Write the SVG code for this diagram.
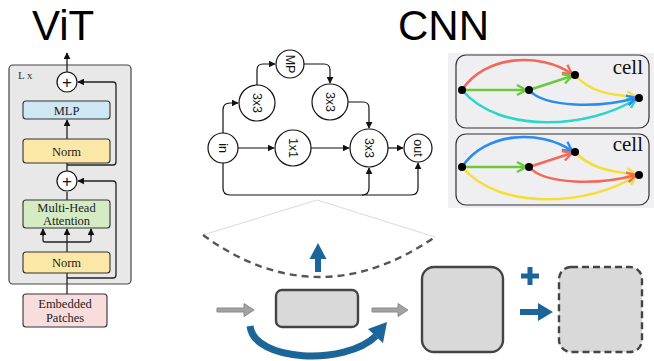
<svg xmlns="http://www.w3.org/2000/svg" width="654" height="361" viewBox="0 0 654 361">
<defs>
<style>
.title{font-family:"Liberation Sans",Arial,sans-serif;font-size:42px;fill:#000}
.vt{font-family:"Liberation Serif","Times New Roman",serif;font-size:12.5px;fill:#222;text-anchor:middle}
.blk{fill:none;stroke:#222;stroke-width:1.3}
.cn{fill:#fff;stroke:#111;stroke-width:1.2}
.cl{font-family:"Liberation Sans",Arial,sans-serif;font-size:12.5px;fill:#111;text-anchor:middle;dominant-baseline:central}
.ce{fill:none;stroke:#111;stroke-width:1.2}
.ed{fill:none;stroke-width:2.6;stroke-linecap:round}
.cell{fill:#efeff2;stroke:#333;stroke-width:1.2}
.celltxt{font-family:"Liberation Serif","Times New Roman",serif;font-size:21px;fill:#111;text-anchor:end}
.blue{fill:#1c6598}
.gray{fill:#d9d9d9;stroke:#444;stroke-width:2.4}
.garr{fill:#a3a3a3;stroke:#8a8a8a;stroke-width:1}
</style>
<marker id="ah" viewBox="0 0 10 10" refX="9" refY="5" markerWidth="7" markerHeight="7" markerUnits="userSpaceOnUse" orient="auto"><path d="M0,0 L10,5 L0,10 z" fill="#111"/></marker>
<marker id="mr" viewBox="0 0 12 12" refX="10" refY="6" markerWidth="12" markerHeight="12" markerUnits="userSpaceOnUse" orient="auto"><path d="M1,1 L10,6 L1,11" fill="none" stroke="#f2695a" stroke-width="2.4"/></marker>
<marker id="mg" viewBox="0 0 12 12" refX="10" refY="6" markerWidth="12" markerHeight="12" markerUnits="userSpaceOnUse" orient="auto"><path d="M1,1 L10,6 L1,11" fill="none" stroke="#6cc93a" stroke-width="2.4"/></marker>
<marker id="my" viewBox="0 0 12 12" refX="10" refY="6" markerWidth="12" markerHeight="12" markerUnits="userSpaceOnUse" orient="auto"><path d="M1,1 L10,6 L1,11" fill="none" stroke="#f4de3a" stroke-width="2.4"/></marker>
<marker id="mb" viewBox="0 0 12 12" refX="10" refY="6" markerWidth="12" markerHeight="12" markerUnits="userSpaceOnUse" orient="auto"><path d="M1,1 L10,6 L1,11" fill="none" stroke="#2a8cf0" stroke-width="2.4"/></marker>
<marker id="mc" viewBox="0 0 12 12" refX="10" refY="6" markerWidth="12" markerHeight="12" markerUnits="userSpaceOnUse" orient="auto"><path d="M1,1 L10,6 L1,11" fill="none" stroke="#2ad6c6" stroke-width="2.4"/></marker>
</defs>
<rect width="654" height="361" fill="#fff"/>

<text class="title" x="32" y="40">ViT</text>
<text class="title" x="398" y="40">CNN</text>

<!-- ViT -->
<g id="vit-block">
<rect x="9" y="65" width="122" height="219" rx="4" fill="#e8e8e8" stroke="#444" stroke-width="1.2"/>
<text x="18" y="79" font-family="Liberation Serif, serif" font-size="11" fill="#333">L x</text>
</g>
<g id="vit-connectors">
<path class="blk" d="M67,72 V53" marker-end="url(#ah)"/>
<path class="blk" d="M67,139 V120" marker-end="url(#ah)"/>
<path class="blk" d="M67,163 V171"/>
<path class="blk" d="M67,192 V200"/>
<path class="blk" d="M67,165 H113 Q116,165 116,162 V85 Q116,82 113,82 H78" marker-end="url(#ah)"/>
<path class="blk" d="M67,278 H113 Q116,278 116,275 V184 Q116,181 113,181 H78" marker-end="url(#ah)"/>
<path class="blk" d="M67,252 V229" marker-end="url(#ah)"/>
<path class="blk" d="M43,229 V240 Q43,242 45,242 H89 Q91,242 91,240 V229" />
<path class="blk" d="M43,236 V229" marker-end="url(#ah)"/>
<path class="blk" d="M91,236 V229" marker-end="url(#ah)"/>
<path class="blk" d="M67,273 V294"/>
</g>
<g id="vit-plus1"><circle cx="67" cy="82" r="10" fill="#fff" stroke="#111" stroke-width="1.2"/><text x="67" y="88" font-family="Liberation Sans, sans-serif" font-size="17" text-anchor="middle" fill="#111">+</text></g>
<g id="vit-mlp"><rect x="23" y="101" width="87" height="18" rx="3" fill="#cfe6f5" stroke="#333" stroke-width="1.1"/><text class="vt" x="66.5" y="114.5">MLP</text></g>
<g id="vit-norm1"><rect x="23" y="139" width="87" height="24" rx="3" fill="#fbe8a6" stroke="#333" stroke-width="1.1"/><text class="vt" x="66.5" y="155.5">Norm</text></g>
<g id="vit-plus2"><circle cx="67" cy="181" r="10" fill="#fff" stroke="#111" stroke-width="1.2"/><text x="67" y="187" font-family="Liberation Sans, sans-serif" font-size="17" text-anchor="middle" fill="#111">+</text></g>
<g id="vit-mha"><rect x="23" y="200" width="87" height="28" rx="3" fill="#d5ebc4" stroke="#333" stroke-width="1.1"/><text class="vt" x="66.5" y="212">Multi-Head</text><text class="vt" x="66.5" y="225">Attention</text></g>
<g id="vit-norm2"><rect x="23" y="252" width="87" height="21" rx="3" fill="#fbe8a6" stroke="#333" stroke-width="1.1"/><text class="vt" x="66.5" y="267">Norm</text></g>
<g id="vit-embed"><rect x="23" y="294" width="84" height="33" rx="3" fill="#f9dcdc" stroke="#333" stroke-width="1.1"/><text class="vt" x="65" y="308">Embedded</text><text class="vt" x="65" y="322">Patches</text></g>

<!-- CNN graph -->
<g id="cnn-connectors">
<path class="ce" d="M238,148 H274" marker-end="url(#ah)"/>
<path class="ce" d="M311,148 H349" marker-end="url(#ah)"/>
<path class="ce" d="M388,148 H403" marker-end="url(#ah)"/>
<path class="ce" d="M223,133 V110 Q223,103 230,103 H238" marker-end="url(#ah)"/>
<path class="ce" d="M257,85 V70 Q257,64 263,64 H275" marker-end="url(#ah)"/>
<path class="ce" d="M304,64 H324 Q330,64 330,70 V83" marker-end="url(#ah)"/>
<path class="ce" d="M348,102 H363 Q369,102 369,108 V128" marker-end="url(#ah)"/>
<path class="ce" d="M223,163 V188 Q223,195 230,195 H411 Q418,195 418,188 V163" marker-end="url(#ah)"/>
<path class="ce" d="M362,195 Q369,195 369,188 V168" marker-end="url(#ah)"/>
</g>
<g id="cnn-mp"><circle class="cn" cx="290" cy="64" r="14"/><text class="cl" transform="translate(290,64) rotate(90)">MP</text></g>
<g id="cnn-3x3a"><circle class="cn" cx="257" cy="103" r="18"/><text class="cl" transform="translate(257,103) rotate(90)">3x3</text></g>
<g id="cnn-3x3b"><circle class="cn" cx="330" cy="102" r="18"/><text class="cl" transform="translate(330,102) rotate(90)">3x3</text></g>
<g id="cnn-in"><circle class="cn" cx="223" cy="148" r="15"/><text class="cl" transform="translate(223,148) rotate(90)">in</text></g>
<g id="cnn-1x1"><circle class="cn" cx="293" cy="148" r="18"/><text class="cl" transform="translate(293,148) rotate(90)">1x1</text></g>
<g id="cnn-3x3c"><circle class="cn" cx="369" cy="148" r="19"/><text class="cl" transform="translate(369,148) rotate(90)">3x3</text></g>
<g id="cnn-out"><circle class="cn" cx="418" cy="148" r="14"/><text class="cl" transform="translate(418,148) rotate(90)">out</text></g>

<!-- cells -->
<g id="cells">
<rect x="448" y="53" width="206" height="155" fill="#f0f0f3"/>
<rect class="cell" x="456" y="55" width="193" height="73" rx="10"/>
<rect class="cell" x="456" y="134" width="193" height="71" rx="10"/>
<text class="celltxt" x="643" y="74">cell</text>
<text class="celltxt" x="643" y="151">cell</text>
<path class="ed" stroke="#f2695a" d="M462,90 C485,55 540,52 572,74" marker-end="url(#mr)"/>
<path class="ed" stroke="#2ad6c6" d="M462,90 C500,135 590,128 636,99" marker-end="url(#mc)"/>
<path class="ed" stroke="#f4de3a" d="M575,75 C590,92 610,95 636,97" marker-end="url(#my)"/>
<path class="ed" stroke="#2a8cf0" d="M529,90 C545,108 600,108 636,98" marker-end="url(#mb)"/>
<path class="ed" stroke="#6cc93a" d="M462,90 L526,90" marker-end="url(#mg)"/>
<path class="ed" stroke="#6cc93a" d="M529,90 L572,76" marker-end="url(#mg)"/>
<circle cx="462" cy="90" r="4" fill="#000"/><circle cx="529" cy="90" r="4" fill="#000"/><circle cx="575" cy="75" r="4" fill="#000"/><circle cx="639" cy="98" r="4" fill="#000"/>
<path class="ed" stroke="#2a8cf0" d="M462,167 C485,132 540,129 572,151" marker-end="url(#mb)"/>
<path class="ed" stroke="#f4de3a" d="M462,167 C500,212 590,205 636,176" marker-end="url(#my)"/>
<path class="ed" stroke="#f4de3a" d="M575,152 C590,168 610,172 636,174" marker-end="url(#my)"/>
<path class="ed" stroke="#f2695a" d="M529,167 C545,185 600,185 636,175" marker-end="url(#mr)"/>
<path class="ed" stroke="#6cc93a" d="M462,167 L526,167" marker-end="url(#mg)"/>
<path class="ed" stroke="#f2695a" d="M529,167 L572,153" marker-end="url(#mr)"/>
<circle cx="462" cy="167" r="4" fill="#000"/><circle cx="529" cy="167" r="4" fill="#000"/><circle cx="575" cy="152" r="4" fill="#000"/><circle cx="639" cy="175" r="4" fill="#000"/>
</g>

<!-- bottom scene -->
<g id="sector">
<path d="M317,200 L203,235 M317,200 L435,237" stroke="#d0d0d0" stroke-width="0.8" fill="none"/>
<path d="M203,235 Q317,318 435,237" fill="none" stroke="#555" stroke-width="2.4" stroke-dasharray="7,5"/>
</g>
<g id="up-arrow"><path class="blue" d="M315,272 V259 H309.5 L318,243 L326.5,259 H321 V272 Z"/></g>
<g id="gray-arrow-1"><path class="garr" d="M217,308 H244 V303.5 L254,310 L244,316.5 V312 H217 Z"/></g>
<g id="small-box"><rect class="gray" x="276" y="290" width="82" height="37" rx="6"/></g>
<g id="gray-arrow-2"><path class="garr" d="M372,308 H398 V303.5 L408,310 L398,316.5 V312 H372 Z"/></g>
<g id="skip-arrow">
<path d="M250,326 C254,362 345,366 376,336" fill="none" stroke="#1c6598" stroke-width="7"/>
<path class="blue" d="M387,322 L383,343 L368,329 Z"/>
</g>
<g id="big-box"><rect class="gray" x="422" y="267" width="81" height="85" rx="12"/></g>
<g id="plus"><path class="blue" d="M527.5,267 H532.5 V273.5 H539 V278.5 H532.5 V285 H527.5 V278.5 H521 V273.5 H527.5 Z"/></g>
<g id="right-arrow"><path class="blue" d="M520,309 H538 V303 L553,312 L538,321 V315 H520 Z"/></g>
<g id="dashed-box"><rect x="559" y="267" width="83" height="85" rx="12" fill="#d9d9d9" stroke="#444" stroke-width="2.4" stroke-dasharray="7,4"/></g>
</svg>
